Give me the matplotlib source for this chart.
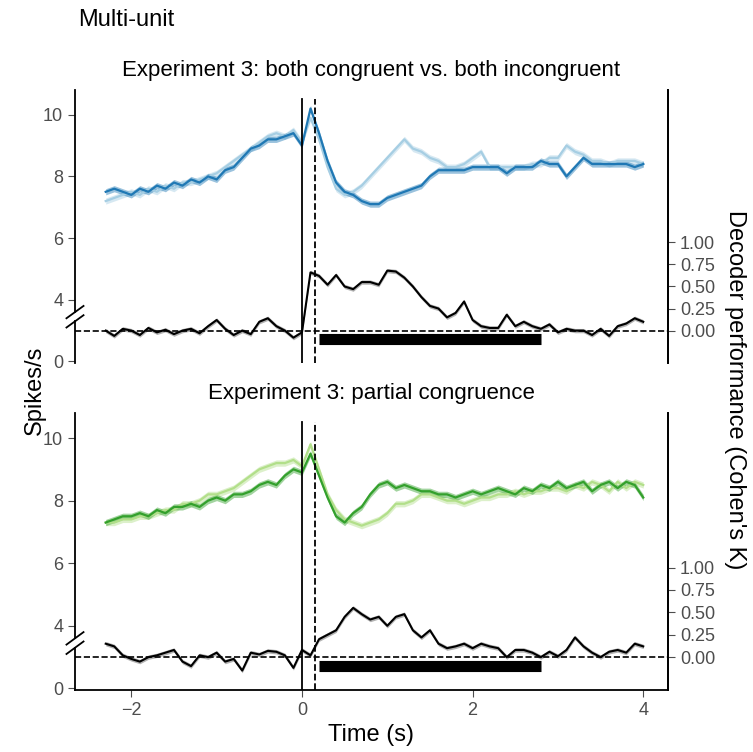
import numpy as np
import matplotlib.pyplot as plt

time = np.round(np.arange(-2.3, 4.0001, 0.1), 2)

# panel 1: both congruent (dark) vs both incongruent (light)
blue_dark = [7.5, 7.6, 7.5, 7.4, 7.6, 7.5, 7.7, 7.6, 7.8, 7.7, 7.9, 7.8, 8.0, 7.9, 8.2, 8.3, 8.6, 8.9, 9.0, 9.2, 9.2, 9.3, 9.4,
             9.0, 10.2, 9.4, 8.5, 7.8, 7.5, 7.4, 7.2, 7.1, 7.1, 7.3, 7.4, 7.5, 7.6, 7.7, 8.0, 8.2, 8.2, 8.2, 8.2, 8.3, 8.3,
             8.3, 8.3, 8.1, 8.3, 8.3, 8.3, 8.5, 8.4, 8.4, 8.0, 8.3, 8.6, 8.4, 8.4, 8.4, 8.4, 8.4, 8.3, 8.4]
blue_light = [7.2, 7.3, 7.4, 7.5, 7.4, 7.6, 7.5, 7.7, 7.6, 7.8, 7.8, 7.9, 8.0, 8.1, 8.3, 8.5, 8.7, 8.9, 9.1, 9.3, 9.4, 9.3, 9.5,
              9.1, 9.9, 9.2, 8.3, 7.6, 7.4, 7.5, 7.7, 8.0, 8.3, 8.6, 8.9, 9.2, 8.9, 8.8, 8.6, 8.5, 8.3, 8.3, 8.4, 8.6, 8.8,
              8.3, 8.3, 8.3, 8.3, 8.3, 8.4, 8.4, 8.6, 8.6, 9.0, 8.8, 8.7, 8.5, 8.5, 8.4, 8.5, 8.5, 8.5, 8.4]
dec1 = [0.0, -0.06, 0.02, 0.0, -0.05, 0.03, -0.02, 0.01, -0.04, 0.0, 0.02, -0.03, 0.05, 0.12, 0.02, -0.05, 0.0, -0.04, 0.1, 0.14,
        0.05, 0.0, -0.08, -0.02, 0.66, 0.62, 0.52, 0.63, 0.5, 0.47, 0.55, 0.55, 0.52, 0.68, 0.67, 0.6, 0.5, 0.38, 0.28, 0.25, 0.15,
        0.2, 0.33, 0.12, 0.05, 0.03, 0.03, 0.18, 0.05, 0.1, 0.05, 0.02, 0.07, -0.02, 0.02, 0.0, 0.0, -0.05, 0.02, -0.06, 0.05,
        0.08, 0.14, 0.1]

# panel 2: partial congruence
green_dark = [7.3, 7.4, 7.5, 7.5, 7.6, 7.5, 7.7, 7.6, 7.8, 7.8, 7.9, 7.8, 8.0, 8.1, 8.0, 8.2, 8.2, 8.3, 8.5, 8.6, 8.5, 8.8, 9.0,
              8.9, 9.5, 8.8, 8.1, 7.5, 7.3, 7.6, 7.8, 8.2, 8.5, 8.6, 8.4, 8.5, 8.4, 8.3, 8.3, 8.2, 8.2, 8.1, 8.2, 8.3, 8.2,
              8.3, 8.4, 8.3, 8.2, 8.4, 8.3, 8.5, 8.4, 8.6, 8.4, 8.5, 8.6, 8.3, 8.5, 8.6, 8.4, 8.6, 8.5, 8.1]
green_light = [7.3, 7.3, 7.4, 7.4, 7.5, 7.5, 7.6, 7.7, 7.7, 7.9, 7.9, 8.0, 8.2, 8.2, 8.3, 8.4, 8.6, 8.8, 9.0, 9.1, 9.2, 9.2, 9.3,
               9.1, 9.8, 9.0, 8.2, 7.7, 7.4, 7.3, 7.2, 7.3, 7.4, 7.6, 7.9, 7.9, 8.0, 8.2, 8.2, 8.1, 8.0, 8.0, 7.9, 8.0, 8.1,
               8.1, 8.2, 8.2, 8.3, 8.2, 8.3, 8.3, 8.4, 8.4, 8.3, 8.5, 8.4, 8.6, 8.5, 8.3, 8.6, 8.4, 8.6, 8.5]
dec2 = [0.15, 0.12, 0.02, -0.02, -0.05, 0.0, 0.02, 0.05, 0.08, -0.05, -0.1, 0.02, 0.0, 0.05, -0.05, -0.02, -0.15, 0.05, 0.03,
        0.07, 0.06, 0.02, -0.12, 0.08, 0.02, 0.2, 0.25, 0.3, 0.45, 0.55, 0.48, 0.42, 0.45, 0.35, 0.45, 0.48, 0.3, 0.22, 0.3, 0.15,
        0.1, 0.12, 0.15, 0.1, 0.15, 0.12, 0.1, 0.0, 0.08, 0.08, 0.05, 0.0, 0.06, 0.01, 0.08, 0.22, 0.12, 0.05, 0.0, 0.06, 0.08,
        0.05, 0.15, 0.12]

sig_start, sig_end = 0.2, 2.8
titles = ['Experiment 3: both congruent vs. both incongruent', 'Experiment 3: partial congruence']
colors = [('#1f78b4', '#a6cee3'), ('#33a02c', '#b2df8a')]
series = [(blue_dark, blue_light, dec1), (green_dark, green_light, dec2)]

fig = plt.figure(figsize=(7.53, 7.52), dpi=100)
plt.rcParams.update({'font.family': 'Liberation Sans', 'font.size': 13})
ylo, yhi = 1.95, 10.8
k = 2.86  # decoder units -> spikes axis units

for i in range(2):
    top = 1 - 90 / 752 if i == 0 else 1 - 413 / 752
    bottom = 1 - 363 / 752 if i == 0 else 1 - 690 / 752
    ax = fig.add_axes([75 / 753, bottom, (668 - 75) / 753, top - bottom])
    dark, light, dec = series[i]
    cd, cl = colors[i]
    for vals, c in [(light, cl), (dark, cd)]:
        v = np.array(vals)
        ax.fill_between(time, v - 0.1, v + 0.1, color=c, alpha=0.45, lw=0)
        ax.plot(time, v, color=c, lw=1.6)
    d = 3.0 + k * np.array(dec)
    ax.fill_between(time, d - 0.07, d + 0.07, color='grey', alpha=0.6, lw=0)
    ax.plot(time, d, color='black', lw=1.5)
    ax.axhline(3.0, color='black', ls='--', lw=1.2)
    ax.plot([sig_start, sig_end], [2.72, 2.72], color='black', lw=8, solid_capstyle='butt')
    ax.plot([0, 0], [ylo, 10.5], color='black', lw=1.3)
    ax.plot([0.15, 0.15], [ylo, 10.5], color='black', lw=1.3, ls='--')
    ax.set_xlim(-2.66, 4.29)
    ax.set_ylim(ylo, yhi)
    ax.set_yticks([2, 4, 6, 8, 10])
    ax.set_yticklabels(['0', '4', '6', '8', '10'])
    ax.tick_params(colors='#4d4d4d', labelsize=13, length=5)
    ax.spines['top'].set_visible(False)
    ax.spines['left'].set_visible(False)
    ax.spines['right'].set_linewidth(1.3)
    # left axis with a break
    ax.plot([-2.66, -2.66], [ylo, 3.3], color='black', lw=1.3, clip_on=False)
    ax.plot([-2.66, -2.66], [3.6, yhi], color='black', lw=1.3, clip_on=False)
    for yb in (3.3, 3.6):
        ax.plot([-2.76, -2.56], [yb - 0.2, yb + 0.2], color='black', lw=1.3, clip_on=False)
    if i == 0:
        ax.spines['bottom'].set_visible(False)
        ax.set_xticks([])
    else:
        ax.spines['bottom'].set_linewidth(1.3)
        ax.set_xticks([-2, 0, 2, 4])
        ax.set_xticklabels(['\u22122', '0', '2', '4'])
        ax.set_xlabel('Time (s)', fontsize=17)
    ax.set_title(titles[i], fontsize=16, pad=10)
    ax2 = ax.twinx()
    ax2.set_ylim((ylo - 3) / k, (yhi - 3) / k)
    ax2.set_yticks([0, 0.25, 0.5, 0.75, 1.0])
    ax2.set_yticklabels(['0.00', '0.25', '0.50', '0.75', '1.00'])
    ax2.tick_params(colors='#4d4d4d', labelsize=13, length=5)
    for s in ['top', 'left', 'bottom', 'right']:
        ax2.spines[s].set_visible(s == 'right')
    ax2.spines['right'].set_linewidth(1.3)

fig.text(78 / 753, 1 - 20 / 752, 'Multi-unit', fontsize=17, va='center')
fig.text(35 / 753, 1 - 390 / 752, 'Spikes/s', fontsize=17, rotation=90, va='center', ha='center')
fig.text(735 / 753, 1 - 390 / 752, "Decoder performance (Cohen's K)", fontsize=17, rotation=-90,
         va='center', ha='center')
fig.savefig('out.png', dpi=100)
